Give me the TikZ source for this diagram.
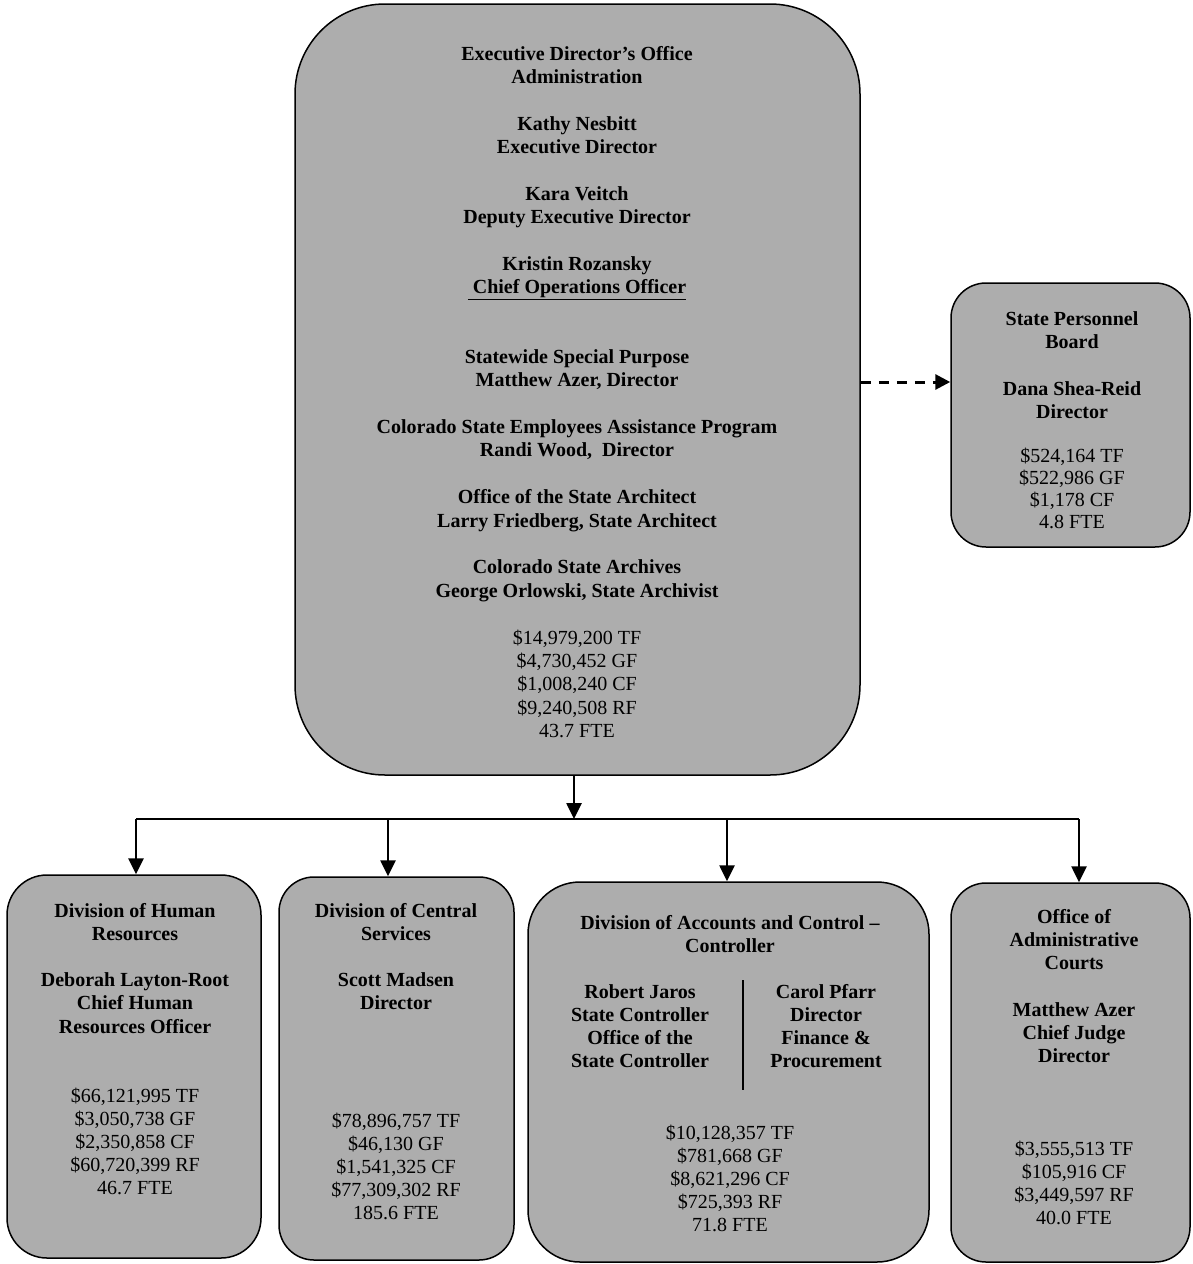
\documentclass[tikz,border=0pt]{standalone}
\usepackage{fontspec}
\setmainfont{Liberation Serif}
\usetikzlibrary{arrows.meta}
\definecolor{boxgray}{gray}{0.68}
\newcommand{\tb}[1]{\begin{tabular}[t]{@{}c@{}}#1\end{tabular}}
\begin{document}
\begin{tikzpicture}[x=1pt,y=-1pt,
  box/.style={draw, line width=1.5pt, fill=boxgray, inner sep=0pt},
  names/.style={inner sep=0pt, anchor=base, font=\fontsize{20}{23.35}\selectfont\bfseries},
  money/.style={inner sep=0pt, anchor=base, font=\fontsize{20}{23.2}\selectfont},
  arr/.style={line width=2.6pt, -{Triangle[length=16pt,width=15pt]}},
  busline/.style={line width=2pt},
  dasharr/.style={line width=3pt, dash pattern=on 10pt off 8pt, -{Triangle[length=15pt,width=15pt]}}]
\useasboundingbox (0,0) rectangle (1193,1264);
\fill[white] (0,0) rectangle (1193,1264);

% boxes
\node[box, minimum width=565pt, minimum height=771pt, rounded corners=90pt] (main) at (577.5,389.5) {};
\node[box, minimum width=239pt, minimum height=264pt, rounded corners=35pt] (spb) at (1070.5,415) {};
\node[box, minimum width=254pt, minimum height=383pt, rounded corners=40pt] (hr) at (134,1066.5) {};
\node[box, minimum width=235pt, minimum height=383pt, rounded corners=35pt] (cs) at (396.5,1068.5) {};
\node[box, minimum width=401pt, minimum height=380pt, rounded corners=52pt] (ac) at (728.5,1072) {};
\node[box, minimum width=239pt, minimum height=379pt, rounded corners=35pt] (oac) at (1070.5,1072.5) {};

% main text
\node[names] (mainnames) at (577,60) {\tb{Executive Director’s Office\\
Administration\\
\\
Kathy Nesbitt\\
Executive Director\\
\\
Kara Veitch\\
Deputy Executive Director\\
\\
Kristin Rozansky\\
\underline{\ Chief Operations Officer}\\
\\
\\
Statewide Special Purpose\\
Matthew Azer, Director\\
\\
Colorado State Employees Assistance Program\\
Randi Wood,\ \ Director\\
\\
Office of the State Architect\\
Larry Friedberg, State Architect\\
\\
Colorado State Archives\\
George Orlowski, State Archivist}};
\node[money, font=\fontsize{20}{23.35}\selectfont] (mainmoney) at (577,644) {\tb{\$14,979,200 TF\\ \$4,730,452 GF\\ \$1,008,240 CF\\ \$9,240,508 RF\\ 43.7 FTE}};

% state personnel board
\node[names] (spbnames) at (1072,325) {\tb{State Personnel\\ Board\\ \\ Dana Shea-Reid\\ Director}};
\node[money, font=\fontsize{20}{22}\selectfont] (spbmoney) at (1072,462) {\tb{\$524,164 TF\\ \$522,986 GF\\ \$1,178 CF\\ 4.8 FTE}};

% human resources
\node[names, font=\fontsize{20}{23.2}\selectfont\bfseries] (hrnames) at (135,917) {\tb{Division of Human\\ Resources\\ \\ Deborah Layton-Root\\ Chief Human\\ Resources Officer}};
\node[money] (hrmoney) at (135,1102) {\tb{\$66,121,995 TF\\ \$3,050,738 GF\\ \$2,350,858 CF\\ \$60,720,399 RF\\ 46.7 FTE}};

% central services
\node[names, font=\fontsize{20}{23.2}\selectfont\bfseries] (csnames) at (396,917) {\tb{Division of Central\\ Services\\ \\ Scott Madsen\\ Director}};
\node[money] (csmoney) at (396,1127) {\tb{\$78,896,757 TF\\ \$46,130 GF\\ \$1,541,325 CF\\ \$77,309,302 RF\\ 185.6 FTE}};

% accounts and control
\node[names, font=\fontsize{20}{23.2}\selectfont\bfseries] (actitle) at (730,929) {\tb{Division of Accounts and Control –\\ Controller}};
\node[names, font=\fontsize{20}{23.2}\selectfont\bfseries] (acleft) at (640,998) {\tb{Robert Jaros\\ State Controller\\ Office of the\\ State Controller}};
\node[names, font=\fontsize{20}{23.2}\selectfont\bfseries] (acright) at (826,998) {\tb{Carol Pfarr\\ Director\\ Finance \&\\ Procurement}};
\draw[line width=1.5pt] (743,980) -- (743,1090);
\node[money] (acmoney) at (730,1139) {\tb{\$10,128,357 TF\\ \$781,668 GF\\ \$8,621,296 CF\\ \$725,393 RF\\ 71.8 FTE}};

% administrative courts
\node[names, font=\fontsize{20}{23.3}\selectfont\bfseries] (oacnames) at (1074,923) {\tb{Office of\\ Administrative\\ Courts\\ \\ Matthew Azer\\ Chief Judge\\ Director}};
\node[money, font=\fontsize{20}{23.3}\selectfont] (oacmoney) at (1074,1155) {\tb{\$3,555,513 TF\\ \$105,916 CF\\ \$3,449,597 RF\\ 40.0 FTE}};

% connectors
\coordinate (bus0) at (574,819);
\coordinate (bhr) at (136,819);
\coordinate (bcs) at (388,819);
\coordinate (bac) at (727,819);
\coordinate (boac) at (1079,819);
\coordinate (dash) at (0,382);
\draw[arr] (main.south -| bus0) -- (bus0);
\draw[busline] (bhr) -- (boac);
\draw[arr] (bhr) -- (hr.north -| bhr);
\draw[arr] (bcs) -- (cs.north -| bcs);
\draw[arr] (bac) -- (ac.north -| bac);
\draw[arr] (boac) -- (oac.north -| boac);
\draw[dasharr] (main.east |- dash) -- (spb.west |- dash);
\end{tikzpicture}
\end{document}
